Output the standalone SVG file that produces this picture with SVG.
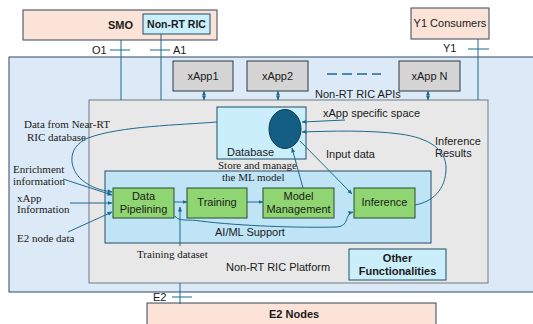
<svg xmlns="http://www.w3.org/2000/svg" width="533" height="324" viewBox="0 0 533 324">
  <defs>
    <marker id="ah" viewBox="0 0 10 10" refX="9" refY="5" markerWidth="5" markerHeight="5" orient="auto-start-reverse">
      <path d="M0,1 L10,5 L0,9 z" fill="#1d6a8e"/>
    </marker>
  </defs>
  <style>
    .sans { font-family: "Liberation Sans", Arial, sans-serif; font-size: 11px; fill: #1a1a1a; }
    .bold { font-weight: bold; }
    .serif { font-family: "Liberation Serif", "Times New Roman", serif; font-size: 11px; fill: #1a1a1a; }
    .peach { fill: #fbe3d8; stroke: #33475a; stroke-width: 1; }
    .cyan { fill: #cbeefb; stroke: #1e4e68; stroke-width: 1; }
    .gray { fill: #d4d4d4; stroke: #2c3a44; stroke-width: 1; }
    .green { fill: #8fd672; stroke: #2b4a35; stroke-width: 1; }
    .line { fill: none; stroke: #1d6a8e; stroke-width: 1; }
    .arrow { fill: none; stroke: #1d6a8e; stroke-width: 1; marker-end: url(#ah); }
    .mid { text-anchor: middle; }
  </style>

  <!-- Non-RT RIC outer area -->
  <rect id="outer" x="9" y="57" width="530" height="235" fill="#dce9f6" stroke="#2b4a66" stroke-width="1"/>

  <!-- platform -->
  <g id="platform">
    <rect x="89" y="100" width="399" height="183" fill="#e8e8e8" stroke="#6f7c86" stroke-width="1"/>
    <text class="sans" x="226" y="271">Non-RT RIC Platform</text>
  </g>

  <g id="smo">
    <rect class="peach" x="23" y="10" width="194" height="30"/>
    <text class="sans bold" x="108" y="29">SMO</text>
  </g>
  <g id="nonrtric">
    <rect class="cyan" x="143" y="14" width="67" height="20"/>
    <text class="sans bold mid" x="176.5" y="28" style="font-size:10.5px">Non-RT RIC</text>
  </g>
  <g id="y1consumers">
    <rect class="peach" x="411" y="8" width="78" height="31"/>
    <text class="sans mid" x="450" y="27">Y1 Consumers</text>
  </g>
  <g id="e2nodes">
    <rect class="peach" x="147" y="303" width="289" height="30"/>
    <text class="sans bold" x="269" y="318">E2 Nodes</text>
  </g>

  <g id="xapp1">
    <rect class="gray" x="173" y="61" width="60" height="30"/>
    <text class="sans mid" x="203" y="80">xApp1</text>
  </g>
  <g id="xapp2">
    <rect class="gray" x="247" y="61" width="61" height="30"/>
    <text class="sans mid" x="277.5" y="80">xApp2</text>
  </g>
  <g id="xappn">
    <rect class="gray" x="399" y="61" width="61" height="30"/>
    <text class="sans mid" x="429.5" y="80">xApp N</text>
  </g>
  <g id="apis">
    <line x1="327" y1="74" x2="381" y2="74" stroke="#1d6a8e" stroke-width="1.5" stroke-dasharray="10,5"/>
    <text class="sans" x="315" y="98">Non-RT RIC APIs</text>
  </g>

  <g id="database">
    <rect class="cyan" x="217" y="107" width="89" height="52"/>
    <text class="sans" x="227" y="156">Database</text>
    <ellipse cx="285" cy="129" rx="16" ry="19.5" fill="#135e82" stroke="#0d3a50" stroke-width="1"/>
  </g>

  <g id="aiml">
    <rect x="105" y="171" width="326" height="72" fill="#bfe4f5" stroke="#2a4a66" stroke-width="1"/>
    <text class="sans" x="215" y="236">AI/ML Support</text>
  </g>

  <g id="datapipelining">
    <rect class="green" x="113" y="188" width="61" height="30"/>
    <text class="sans mid" x="143.5" y="200">Data</text>
    <text class="sans mid" x="143.5" y="213">Pipelining</text>
  </g>
  <g id="training">
    <rect class="green" x="187" y="188" width="60" height="30"/>
    <text class="sans mid" x="217" y="206">Training</text>
  </g>
  <g id="modelmanagement">
    <rect class="green" x="263" y="188" width="71" height="30"/>
    <text class="sans mid" x="298.5" y="200">Model</text>
    <text class="sans mid" x="298.5" y="213">Management</text>
  </g>
  <g id="inference">
    <rect class="green" x="354" y="188" width="61" height="30"/>
    <text class="sans mid" x="384.5" y="206">Inference</text>
  </g>

  <g id="otherfunctionalities">
    <rect class="cyan" x="349" y="249" width="97" height="31"/>
    <text class="sans bold mid" x="397.5" y="262">Other</text>
    <text class="sans bold mid" x="397.5" y="275">Functionalities</text>
  </g>

  <!-- free labels -->
  <g id="labels">
    <text class="sans" x="92" y="54">O1</text>
    <text class="sans" x="173" y="54">A1</text>
    <text class="sans" x="443" y="52">Y1</text>
    <text class="sans" x="153" y="301">E2</text>
    <text class="sans" x="323" y="117">xApp specific space</text>
    <text class="sans" x="326" y="158">Input data</text>
    <text class="sans" x="435" y="145">Inference</text>
    <text class="sans" x="435" y="157">Results</text>
    <text class="serif" x="218" y="169">Store and manage</text>
    <text class="serif" x="222" y="181">the ML model</text>
    <text class="serif" x="24" y="128">Data from Near-RT</text>
    <text class="serif" x="27" y="141">RIC database</text>
    <text class="serif" x="13" y="173">Enrichment</text>
    <text class="serif" x="13" y="185">information</text>
    <text class="serif" x="17" y="202">xApp</text>
    <text class="serif" x="17" y="213">Information</text>
    <text class="serif" x="17" y="242">E2 node data</text>
    <text class="serif" x="137" y="258">Training dataset</text>
  </g>

  <g id="connectors">
    <!-- interfaces -->
    <line class="line" x1="121" y1="40" x2="121" y2="100"/>
    <line class="line" x1="110" y1="50" x2="130" y2="50"/>
    <line class="line" x1="161" y1="34" x2="161" y2="100"/>
    <line class="line" x1="150" y1="50" x2="170" y2="50"/>
    <line class="line" x1="478" y1="39" x2="478" y2="100"/>
    <line class="line" x1="468" y1="49" x2="489" y2="49"/>
    <line class="line" x1="180" y1="283" x2="180" y2="304"/>
    <line class="line" x1="172" y1="297" x2="192" y2="297"/>
    <!-- xApp API links -->
    <line x1="204" y1="91" x2="204" y2="100" stroke="#1d6a8e" stroke-width="1" marker-start="url(#ah)" marker-end="url(#ah)"/>
    <line x1="278" y1="91" x2="278" y2="100" stroke="#1d6a8e" stroke-width="1" marker-start="url(#ah)" marker-end="url(#ah)"/>
    <line x1="428" y1="91" x2="428" y2="100" stroke="#1d6a8e" stroke-width="1" marker-start="url(#ah)" marker-end="url(#ah)"/>
    <!-- pipeline -->
    <path class="arrow" d="M174,202 L187,202"/>
    <path class="arrow" d="M247,202 L263,202"/>
    <path class="arrow" d="M180,246 L180,207"/>
    <path class="arrow" d="M175,216 C178,222 190,219 200,221 C240,226 300,228 337,227 C350,226 344,214 353,212"/>
    <!-- database links -->
    <path class="arrow" d="M303,188 L292,148"/>
    <path class="arrow" d="M300,141 L352,194"/>
    <path class="arrow" d="M345,120 L302,122"/>
    <path class="arrow" d="M415,205 C432,202 446,190 446,168 C446,150 430,138 400,134 C370,130 330,131 302,132"/>
    <!-- external inputs -->
    <path class="arrow" d="M217,122 C180,125 120,126 88,138 C65,148 70,170 82,180 C92,188 100,190 112,192"/>
    <path class="arrow" d="M63,179 L112,195"/>
    <path class="arrow" d="M70,203 L112,203"/>
    <path class="arrow" d="M68,232 L112,212"/>
  </g>
</svg>
